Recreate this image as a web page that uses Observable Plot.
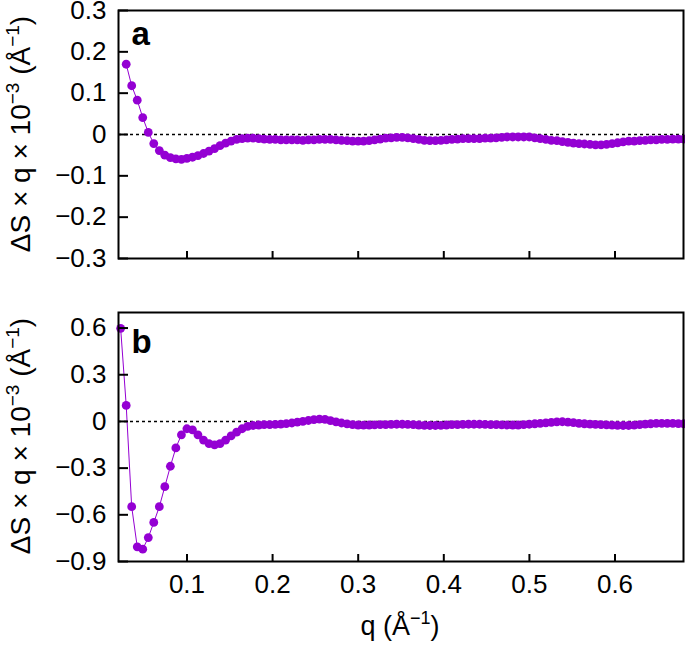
<!DOCTYPE html>
<html><head><meta charset="utf-8">
<script src="https://cdn.jsdelivr.net/npm/d3@7"></script>
<script src="https://cdn.jsdelivr.net/npm/@observablehq/plot@0.6"></script>
<style>body{margin:0;background:#fff} svg{display:block}</style>
</head><body><div id="chart"></div>
<script>
// q grid (Å^-1)
const q = [0.0225,0.0290,0.0354,0.0419,0.0483,0.0548,0.0612,0.0677,0.0741,0.0806,
0.0870,0.0935,0.0999,0.1064,0.1128,0.1193,0.1257,0.1322,0.1386,0.1451,
0.1515,0.1580,0.1644,0.1709,0.1773,0.1838,0.1902,0.1967,0.2031,0.2096,
0.2160,0.2225,0.2289,0.2354,0.2418,0.2483,0.2547,0.2612,0.2676,0.2741,
0.2805,0.2870,0.2934,0.2999,0.3063,0.3128,0.3192,0.3257,0.3321,0.3386,
0.3450,0.3515,0.3579,0.3644,0.3708,0.3773,0.3837,0.3902,0.3966,0.4031,
0.4095,0.4160,0.4224,0.4289,0.4353,0.4418,0.4482,0.4547,0.4611,0.4676,
0.4740,0.4805,0.4869,0.4934,0.4998,0.5063,0.5127,0.5192,0.5256,0.5321,
0.5385,0.5450,0.5514,0.5579,0.5643,0.5708,0.5772,0.5837,0.5901,0.5966,
0.6030,0.6095,0.6159,0.6224,0.6288,0.6353,0.6417,0.6482,0.6546,0.6611,
0.6675,0.6740,0.6804];

// panel a values, at q[1] .. q[102]
const panelA = [0.170,0.118,0.083,0.041,0.005,-0.022,-0.039,-0.050,-0.056,-0.059,
-0.060,-0.058,-0.055,-0.051,-0.046,-0.040,-0.034,-0.027,-0.021,-0.016,
-0.012,-0.010,-0.009,-0.009,-0.010,-0.011,-0.012,-0.012,-0.013,-0.013,
-0.013,-0.013,-0.014,-0.013,-0.013,-0.012,-0.012,-0.012,-0.013,-0.014,
-0.015,-0.016,-0.016,-0.016,-0.015,-0.013,-0.011,-0.009,-0.008,-0.007,
-0.007,-0.008,-0.010,-0.012,-0.014,-0.015,-0.015,-0.014,-0.013,-0.012,
-0.011,-0.010,-0.010,-0.010,-0.010,-0.009,-0.009,-0.008,-0.007,-0.006,
-0.006,-0.006,-0.006,-0.006,-0.008,-0.010,-0.012,-0.014,-0.015,-0.017,
-0.019,-0.021,-0.022,-0.023,-0.024,-0.025,-0.025,-0.024,-0.022,-0.020,
-0.018,-0.016,-0.016,-0.015,-0.014,-0.013,-0.013,-0.012,-0.012,-0.011,
-0.011,-0.011];

// panel b values, at q[0] .. q[102]
const panelB = [0.598,0.103,-0.548,-0.806,-0.821,-0.746,-0.649,-0.548,-0.419,-0.288,
-0.170,-0.086,-0.047,-0.054,-0.086,-0.120,-0.142,-0.150,-0.142,-0.120,
-0.093,-0.069,-0.047,-0.032,-0.026,-0.023,-0.021,-0.020,-0.019,-0.017,
-0.014,-0.010,-0.005,0.000,0.006,0.012,0.015,0.013,0.005,-0.003,
-0.010,-0.016,-0.020,-0.023,-0.024,-0.023,-0.022,-0.021,-0.020,-0.019,
-0.018,-0.018,-0.019,-0.021,-0.023,-0.025,-0.026,-0.026,-0.025,-0.023,
-0.021,-0.020,-0.019,-0.018,-0.018,-0.018,-0.019,-0.020,-0.021,-0.022,
-0.023,-0.023,-0.023,-0.021,-0.018,-0.015,-0.012,-0.009,-0.006,-0.003,
-0.002,-0.004,-0.008,-0.012,-0.015,-0.017,-0.019,-0.021,-0.022,-0.024,
-0.025,-0.026,-0.026,-0.024,-0.020,-0.017,-0.015,-0.013,-0.012,-0.012,
-0.013,-0.014,-0.015];

const xTicks = [0.1,0.2,0.3,0.4,0.5,0.6];
const yTicksA = [-0.3,-0.2,-0.1,0,0.1,0.2,0.3];
const yTicksB = [-0.9,-0.6,-0.3,0,0.3,0.6];
const panelLetters = ["a","b"];

const COLOR = "#9400d3";
const FONT = "'Liberation Sans', Arial, Helvetica, sans-serif";
const fmt = d => d === 0 ? "0" : d3.format(".1f")(d);

const dataA = panelA.map((v, i) => ({q: q[i + 1], v}));
const dataB = panelB.map((v, i) => ({q: q[i], v}));

function panel({data, yDomain, yTicks, height, marginTop, marginBottom, xLabels, letter, letterDy}) {
  return Plot.plot({
    width: 685, height, marginLeft: 118, marginRight: 2, marginTop, marginBottom,
    style: {fontFamily: FONT, fontSize: "26px", color: "black", background: "white", overflow: "visible"},
    x: {domain: [0.02, 0.68]},
    y: {domain: yDomain},
    marks: [
      Plot.ruleY([0], {stroke: "black", strokeWidth: 1.6, strokeDasharray: "3,3"}),
      Plot.line(data, {x: "q", y: "v", stroke: COLOR, strokeWidth: 1}),
      Plot.dot(data, {x: "q", y: "v", r: 4.4, fill: COLOR}),
      Plot.axisY({ticks: yTicks, anchor: "left", tickSize: -10, tickPadding: 22, strokeWidth: 2, tickFormat: fmt, label: null, fontSize: 26, fill: "black"}),
      Plot.axisX({ticks: xTicks, anchor: "bottom", tickSize: -7, tickPadding: 20, strokeWidth: 2, tickFormat: xLabels ? fmt : () => "", label: null, fontSize: 26, fill: "black"}),
      Plot.frame({stroke: "black", strokeWidth: 2}),
      Plot.text([letter], {frameAnchor: "top-left", text: d => d, dx: 13, dy: letterDy, lineAnchor: "top", textAnchor: "start", fontWeight: "bold", fontSize: 33, fill: "black"})
    ]
  });
}

function yTitle(svg, cy) {
  const t = d3.select(svg).append("text")
    .attr("transform", `translate(30,${cy}) rotate(-90)`)
    .attr("text-anchor", "middle").attr("font-family", FONT).attr("font-size", 28).attr("fill", "black");
  t.append("tspan").text("ΔS × q × 10");
  t.append("tspan").attr("dy", -11).attr("font-size", 19).text("−3");
  t.append("tspan").attr("dy", 11).text(" (Å");
  t.append("tspan").attr("dy", -11).attr("font-size", 19).text("−1");
  t.append("tspan").attr("dy", 11).text(")");
}

const a = panel({data: dataA, yDomain: [-0.3, 0.3], yTicks: yTicksA, height: 290, marginTop: 10, marginBottom: 32, xLabels: false, letter: panelLetters[0], letterDy: 11});
const b = panel({data: dataB, yDomain: [-0.9, 0.7], yTicks: yTicksB, height: 356, marginTop: 22, marginBottom: 85, xLabels: true, letter: panelLetters[1], letterDy: 17});
yTitle(a, 134);
yTitle(b, 146);

const xt = d3.select(b).append("text")
  .attr("x", 400).attr("y", 345).attr("text-anchor", "middle")
  .attr("font-family", FONT).attr("font-size", 27).attr("fill", "black");
xt.append("tspan").text("q (Å");
xt.append("tspan").attr("dy", -11).attr("font-size", 18).text("−1");
xt.append("tspan").attr("dy", 11).text(")");

document.getElementById("chart").append(a, b);
</script>
</body></html>
